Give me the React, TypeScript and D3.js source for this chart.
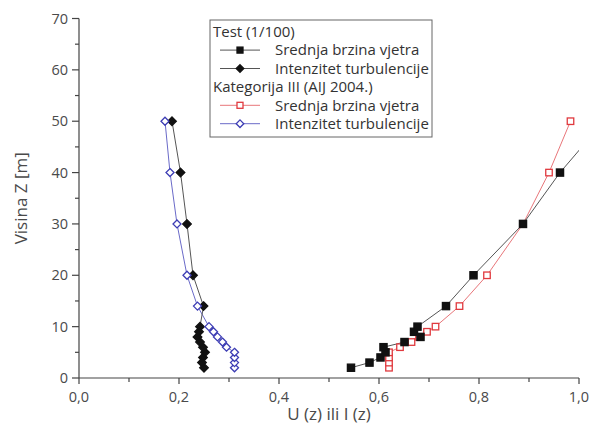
import React from "react";
import * as d3 from "d3";

// Heights above ground [m]
const testHeights = [2, 3, 4, 5, 6, 7, 8, 9, 10, 14, 20, 30, 40, 50];
// Test (1/100): mean wind speed ratio U(z)
const testSpeed = [0.544, 0.581, 0.603, 0.613, 0.609, 0.651, 0.683, 0.67, 0.677, 0.734, 0.789, 0.888, 0.962, 1.05];
// Test (1/100): turbulence intensity I(z)
const testTurb = [0.25, 0.246, 0.248, 0.252, 0.248, 0.242, 0.237, 0.24, 0.242, 0.249, 0.228, 0.216, 0.203, 0.186];

const aijHeights = [2, 3, 4, 5, 6, 7, 8, 9, 10, 14, 20, 30, 40, 50];
// Category III (AIJ 2004): mean wind speed profile
const aijSpeed = [0.62, 0.62, 0.62, 0.62, 0.642, 0.665, 0.68, 0.696, 0.713, 0.761, 0.816, 0.888, 0.94, 0.983];
// Category III (AIJ 2004): turbulence intensity profile
const aijTurb = [0.311, 0.311, 0.311, 0.311, 0.295, 0.287, 0.277, 0.269, 0.26, 0.237, 0.216, 0.196, 0.182, 0.172];

const xMajor = [0, 0.2, 0.4, 0.6, 0.8, 1.0];
const xMinor = [0.1, 0.3, 0.5, 0.7, 0.9];
const yMajor = [0, 10, 20, 30, 40, 50, 60, 70];
const yMinor = [5, 15, 25, 35, 45, 55, 65];

const legendRows = [
  { kind: "title", label: "Test (1/100)" },
  { kind: "blackSquare", label: "Srednja brzina vjetra" },
  { kind: "blackDiamond", label: "Intenzitet turbulencije" },
  { kind: "title", label: "Kategorija III (AIJ 2004.)" },
  { kind: "redSquare", label: "Srednja brzina vjetra" },
  { kind: "blueDiamond", label: "Intenzitet turbulencije" },
];

const W = 596;
const H = 426;
const left = 79;
const right = 579;
const top = 18.5;
const bottom = 378;

const FONT = "'Open Sans', Roboto, sans-serif";
const TEXT = "#4a4a4a";

const RED = "#e0393e";
const RED_LINE = "#e8767a";
const BLUE = "#3c3cb4";
const BLUE_LINE = "#6a6ac8";

function Square({ x, y, s, fill, stroke }: { x: number; y: number; s: number; fill: string; stroke: string }) {
  return <rect x={x - s / 2} y={y - s / 2} width={s} height={s} fill={fill} stroke={stroke} strokeWidth={1.3} />;
}

function Diamond({ x, y, r, fill, stroke }: { x: number; y: number; r: number; fill: string; stroke: string }) {
  const d = `M${x},${y - r}L${x + r},${y}L${x},${y + r}L${x - r},${y}Z`;
  return <path d={d} fill={fill} stroke={stroke} strokeWidth={1.3} />;
}

export default function App() {
  const x = d3.scaleLinear().domain([0, 1]).range([left, right]);
  const y = d3.scaleLinear().domain([0, 70]).range([bottom, top]);

  const line = d3
    .line<[number, number]>()
    .x((d) => x(d[0]))
    .y((d) => y(d[1]));

  const zip = (xs: number[], hs: number[]) => xs.map((v, i) => [v, hs[i]] as [number, number]);

  const testSpeedPts = zip(testSpeed, testHeights);
  const testTurbPts = zip(testTurb, testHeights);
  const aijSpeedPts = zip(aijSpeed, aijHeights);
  const aijTurbPts = zip(aijTurb, aijHeights);

  const legX = 210;
  const legY = 20;
  const legW = 222;
  const legH = 117;
  const rowH = 18.4;

  const legendSymbol = (kind: string, cx: number, cy: number) => {
    if (kind === "blackSquare")
      return (
        <g>
          <line x1={cx - 20} x2={cx + 20} y1={cy} y2={cy} stroke="#555" strokeWidth={1} />
          <Square x={cx} y={cy} s={6} fill="#111" stroke="#111" />
        </g>
      );
    if (kind === "blackDiamond")
      return (
        <g>
          <line x1={cx - 20} x2={cx + 20} y1={cy} y2={cy} stroke="#555" strokeWidth={1} />
          <Diamond x={cx} y={cy} r={3.8} fill="#111" stroke="#111" />
        </g>
      );
    if (kind === "redSquare")
      return (
        <g>
          <line x1={cx - 20} x2={cx + 20} y1={cy} y2={cy} stroke={RED_LINE} strokeWidth={1} />
          <Square x={cx} y={cy} s={6} fill="#fff" stroke={RED} />
        </g>
      );
    return (
      <g>
        <line x1={cx - 20} x2={cx + 20} y1={cy} y2={cy} stroke={BLUE_LINE} strokeWidth={1} />
        <Diamond x={cx} y={cy} r={3.8} fill="#fff" stroke={BLUE} />
      </g>
    );
  };

  return (
    <svg width={W} height={H} style={{ position: "absolute", left: 0, top: 0, background: "#fff" }} fontFamily={FONT}>
      <defs>
        <clipPath id="plot-area">
          <rect x={left} y={top - 2} width={right - left} height={bottom - top + 2} />
        </clipPath>
      </defs>
      <rect x={0} y={0} width={W} height={H} fill="#fff" />

      {/* axes */}
      <g stroke="#444" strokeWidth={1.2}>
        <line x1={left} x2={left} y1={top} y2={bottom} />
        <line x1={left} x2={right} y1={bottom} y2={bottom} />
        {yMajor.map((v) => (
          <line key={"ym" + v} x1={left - 7} x2={left} y1={y(v)} y2={y(v)} />
        ))}
        {yMinor.map((v) => (
          <line key={"yn" + v} x1={left - 4} x2={left} y1={y(v)} y2={y(v)} />
        ))}
        {xMajor.map((v) => (
          <line key={"xm" + v} x1={x(v)} x2={x(v)} y1={bottom} y2={bottom + 6} />
        ))}
        {xMinor.map((v) => (
          <line key={"xn" + v} x1={x(v)} x2={x(v)} y1={bottom} y2={bottom + 4} />
        ))}
      </g>
      <g fill={TEXT} fontSize={14.5}>
        {yMajor.map((v) => (
          <text key={"yl" + v} x={left - 11} y={y(v)} dy="0.35em" textAnchor="end">
            {v}
          </text>
        ))}
        {xMajor.map((v) => (
          <text key={"xl" + v} x={x(v)} y={bottom + 24} textAnchor="middle">
            {d3.format(".1f")(v).replace(".", ",")}
          </text>
        ))}
      </g>
      <text x={(left + right) / 2} y={420} textAnchor="middle" fontSize={17} fill={TEXT}>
        U (z) ili I (z)
      </text>
      <text transform={`translate(27,${(top + bottom) / 2}) rotate(-90)`} textAnchor="middle" fontSize={17} fill={TEXT}>
        Visina Z [m]
      </text>

      {/* data */}
      <g clipPath="url(#plot-area)">
        <path d={line(aijSpeedPts) ?? ""} fill="none" stroke={RED_LINE} strokeWidth={1} />
        <path d={line(aijTurbPts) ?? ""} fill="none" stroke={BLUE_LINE} strokeWidth={1} />
        <path d={line(testSpeedPts) ?? ""} fill="none" stroke="#555" strokeWidth={1} />
        <path d={line(testTurbPts) ?? ""} fill="none" stroke="#555" strokeWidth={1} />

        {aijSpeedPts.map((p, i) => (
          <Square key={"rs" + i} x={x(p[0])} y={y(p[1])} s={6.5} fill="#fff" stroke={RED} />
        ))}
        {testSpeedPts.map((p, i) => (
          <Square key={"bs" + i} x={x(p[0])} y={y(p[1])} s={7.2} fill="#111" stroke="#111" />
        ))}
        {testTurbPts.map((p, i) => (
          <Diamond key={"bd" + i} x={x(p[0])} y={y(p[1])} r={4.3} fill="#111" stroke="#111" />
        ))}
        {aijTurbPts.map((p, i) => (
          <Diamond key={"ud" + i} x={x(p[0])} y={y(p[1])} r={4} fill="#fff" stroke={BLUE} />
        ))}
      </g>

      {/* legend */}
      <rect x={legX} y={legY} width={legW} height={legH} fill="#fff" stroke="#666" strokeWidth={1} />
      {legendRows.map((r, i) => {
        const cy = legY + 11.7 + i * rowH;
        if (r.kind === "title")
          return (
            <text key={"lg" + i} x={legX + 3} y={cy} dy="0.35em" fontSize={15} fill="#333">
              {r.label}
            </text>
          );
        return (
          <g key={"lg" + i}>
            {legendSymbol(r.kind, legX + 30, cy)}
            <text x={legX + 65} y={cy} dy="0.35em" fontSize={15} fill="#333">
              {r.label}
            </text>
          </g>
        );
      })}
    </svg>
  );
}
